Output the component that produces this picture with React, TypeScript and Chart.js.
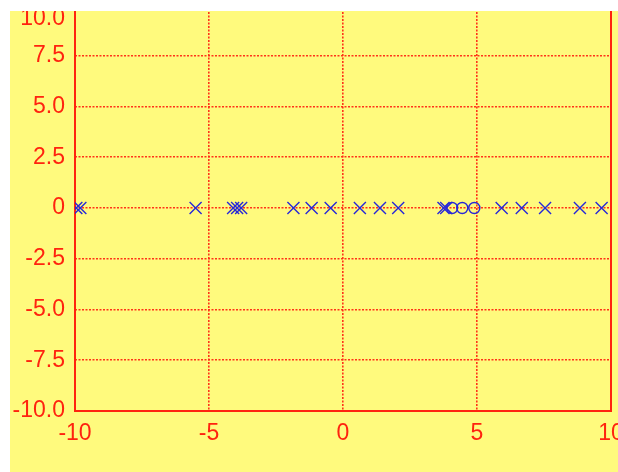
import React, { useEffect, useRef } from "react";
import { Chart, registerables } from "chart.js";

Chart.register(...registerables);

// Poles (x markers) and zeros (o markers) on the complex plane
const poleReal = [-9.95, -9.8, -5.5, -4.1, -3.95, -3.8, -1.85, -1.17, -0.46, 0.63, 1.38, 2.06, 3.75, 3.85, 5.92, 6.67, 7.54, 8.84, 9.65];
const poleImag = [0, 0, 0, 0, 0, 0, 0, 0, 0, 0, 0, 0, 0, 0, 0, 0, 0, 0, 0];
const zeroReal = [4.07, 4.45, 4.9];
const zeroImag = [0, 0, 0];

const xTicks = [-10, -5, 0, 5, 10];
const xTickLabels = ["-10", "-5", "0", "5", "10"];
const yTicks = [-10, -7.5, -5, -2.5, 0, 2.5, 5, 7.5, 10];
const yTickLabels = ["-10.0", "-7.5", "-5.0", "-2.5", "0", "2.5", "5.0", "7.5", "10.0"];

const RED = "rgb(255,35,15)";
const GRID = "rgba(255,40,20,0.95)";
const BLUE = "rgb(40,40,215)";
const FONT = { family: "'Liberation Sans', Arial, sans-serif", size: 23 };

export default function App() {
  const ref = useRef<HTMLCanvasElement | null>(null);

  useEffect(() => {
    if (!ref.current) return;
    const frame = {
      id: "frame",
      beforeDatasetsDraw(chart: any) {
        const { ctx, chartArea: a } = chart;
        ctx.save();
        ctx.strokeStyle = RED;
        ctx.lineWidth = 2;
        ctx.strokeRect(a.left, a.top, a.right - a.left, a.bottom - a.top);
        ctx.restore();
      },
      beforeDraw(chart: any) {
        const s = chart.scales.y;
        const items = s.getLabelItems();
        for (const it of items) {
          if (it.label === yTickLabels[yTickLabels.length - 1]) {
            it.options.translation = [it.options.translation[0], s.getPixelForValue(yTicks[yTicks.length - 1]) + 14];
          }
        }
      },
    };
    const chart = new Chart(ref.current, {
      type: "scatter",
      data: {
        datasets: [
          {
            label: "poles",
            data: poleReal.map((x, i) => ({ x, y: poleImag[i] })),
            pointStyle: "crossRot",
            pointRadius: 8.5,
            pointBorderWidth: 1.4,
            borderColor: BLUE,
            backgroundColor: BLUE,
          },
          {
            label: "zeros",
            data: zeroReal.map((x, i) => ({ x, y: zeroImag[i] })),
            pointStyle: "circle",
            pointRadius: 5.5,
            pointBorderWidth: 1.4,
            borderColor: BLUE,
            backgroundColor: "rgba(0,0,0,0)",
          },
        ],
      },
      options: {
        animation: false,
        responsive: false,
        events: [],
        layout: { padding: { top: 14, right: 39, bottom: 0, left: 0 } },
        plugins: { legend: { display: false }, tooltip: { enabled: false } },
        scales: {
          x: {
            type: "linear",
            min: -10,
            max: 10,
            afterBuildTicks: (s: any) => {
              s.ticks = xTicks.map((v) => ({ value: v }));
            },
            afterFit: (s: any) => {
              s.height = 60;
              s.paddingLeft = 0;
              s.paddingRight = 0;
            },
            ticks: {
              color: RED,
              font: FONT,
              padding: 9,
              maxRotation: 0,
              autoSkip: false,
              callback: (v: any) => xTickLabels[xTicks.indexOf(Number(v))] ?? "",
            },
            grid: { color: GRID, lineWidth: 1.6, drawTicks: false },
            border: { display: false, dash: [2, 1.5] },
          },
          y: {
            type: "linear",
            min: -10,
            max: 10,
            afterBuildTicks: (s: any) => {
              s.ticks = yTicks.map((v) => ({ value: v }));
            },
            afterFit: (s: any) => {
              s.width = 65;
              s.paddingTop = 0;
              s.paddingBottom = 0;
            },
            ticks: {
              color: RED,
              font: FONT,
              padding: 10,
              autoSkip: false,
              callback: (v: any) => yTickLabels[yTicks.indexOf(Number(v))] ?? "",
            },
            grid: { color: GRID, lineWidth: 1.6, drawTicks: false },
            border: { display: false, dash: [2, 1.5] },
          },
        },
      },
      plugins: [frame],
    });
    return () => chart.destroy();
  }, []);

  return (
    <div
      style={{
        position: "fixed",
        left: 10,
        top: 11,
        right: 0,
        bottom: 0,
        overflow: "hidden",
        background: "rgb(255,250,125)",
      }}
    >
      <canvas
        ref={ref}
        width={640}
        height={480}
        style={{ position: "absolute", left: 0, top: -20, display: "block" }}
      />
    </div>
  );
}
